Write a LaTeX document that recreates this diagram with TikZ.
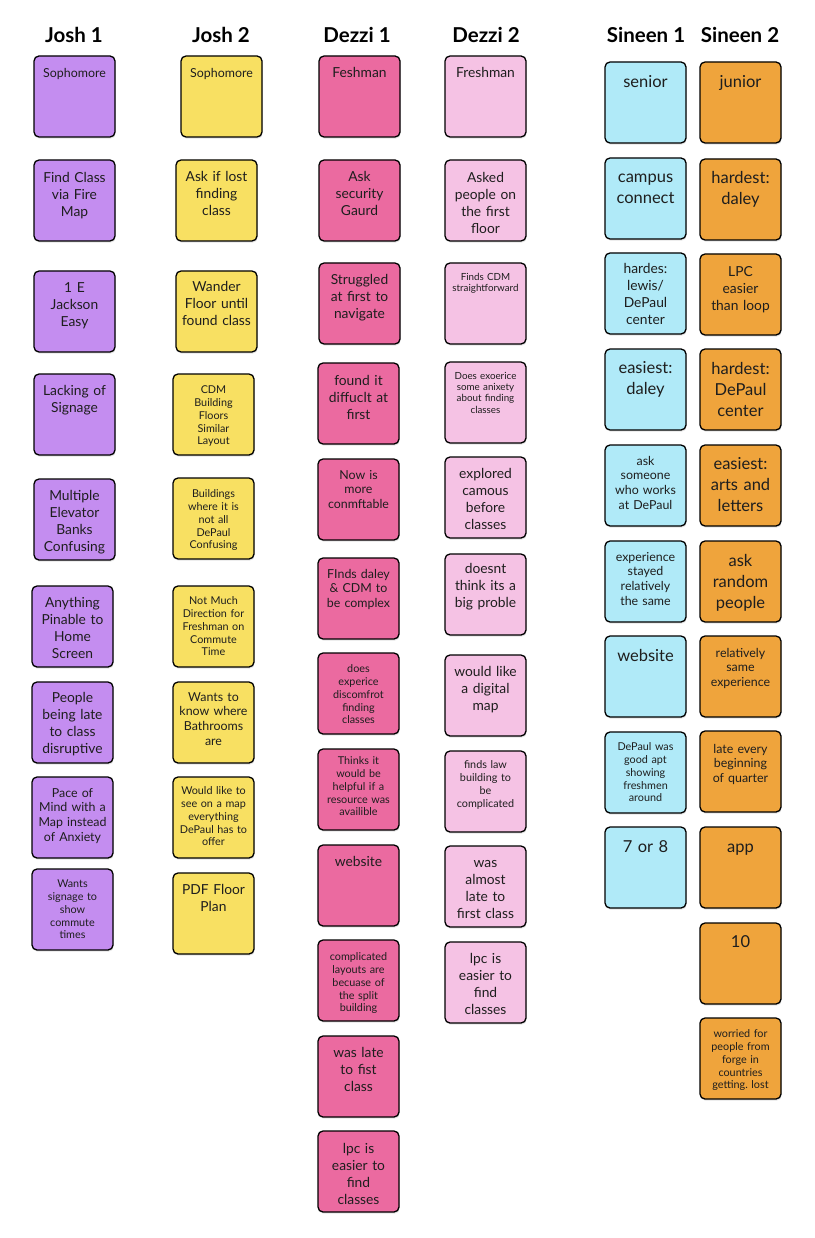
\documentclass[tikz,border=0pt]{standalone}
\usepackage{fontspec}
\setmainfont{Lato}
\frenchspacing
\usetikzlibrary{shadows}
\definecolor{purp}{HTML}{C48DF0}
\definecolor{yel}{HTML}{F8E062}
\definecolor{pinkd}{HTML}{EB6AA0}
\definecolor{pinkl}{HTML}{F5C2E4}
\definecolor{skyb}{HTML}{B0EAF8}
\definecolor{orng}{HTML}{EFA43C}
\definecolor{ink}{HTML}{1E1E1E}
\tikzset{
  notebox/.style={draw=black, line width=1.3pt, rounded corners=5pt, minimum width=81pt, minimum height=81pt, inner sep=0pt,
    drop shadow={shadow xshift=0.6pt, shadow yshift=-1.6pt, opacity=0.22}},
  txt/.style={anchor=base, text width=95pt, align=center, inner sep=0pt, text=ink},
  tt/.style={txt, font=\fontsize{9.8}{11.3}\selectfont, yshift=-4.8pt},
  ts/.style={txt, font=\fontsize{10.8}{12.8}\selectfont, yshift=-5.3pt},
  sm/.style={txt, font=\fontsize{12.4}{14.6}\selectfont, yshift=-5.9pt},
  md/.style={txt, font=\fontsize{13.8}{17}\selectfont, yshift=-6.2pt},
  lg/.style={txt, font=\fontsize{16.5}{21}\selectfont, yshift=-7pt},
  title/.style={font=\bfseries\fontsize{20.5}{24}\selectfont, text=black, inner sep=0pt}
}
% name, left x, top y, colour, text style, first-line centre offset, text
\newcommand{\sticky}[7]{%
  \node[notebox, fill=#4] (#1) at (#2+40.5,#3+40.5) {};
  \node[#5, yshift=-#6pt] (#1t) at (#1.north) {#7};
}
\begin{document}
\begin{tikzpicture}[x=1pt,y=-1pt]
\fill[white] (0,0) rectangle (814,1238);
\useasboundingbox (0,0) rectangle (814,1238);
% titles
\node[title] (h1) at (74,35) {Josh 1};
\node[title] (h2) at (221,35) {Josh 2};
\node[title] (h3) at (357,35) {Dezzi 1};
\node[title] (h4) at (486,35) {Dezzi 2};
\node[title] (h5) at (646,35) {Sineen 1};
\node[title] (h6) at (740,35) {Sineen 2};
% Josh 1
\sticky{ja1}{34}{56}{purp}{sm}{16}{Sophomore}
\sticky{ja2}{34}{160}{purp}{md}{17}{Find Class\\via Fire\\Map}
\sticky{ja3}{34}{271}{purp}{md}{16}{1 E\\Jackson\\Easy}
\sticky{ja4}{34}{374}{purp}{md}{16}{Lacking of\\Signage}
\sticky{ja5}{34}{479}{purp}{md}{16}{Multiple\\Elevator\\Banks\\Confusing}
\sticky{ja6}{32}{586}{purp}{md}{16}{Anything\\Pinable to\\Home\\Screen}
\sticky{ja7}{32}{682}{purp}{md}{15}{People\\being late\\to class\\disruptive}
\sticky{ja8}{32}{777}{purp}{sm}{15}{Pace of\\Mind with a\\Map instead\\of Anxiety}
\sticky{ja9}{32}{869}{purp}{ts}{14}{Wants\\signage to\\show\\commute\\times}
% Josh 2
\sticky{jb1}{181}{56}{yel}{sm}{16}{Sophomore}
\sticky{jb2}{176}{160}{yel}{md}{16}{Ask if lost\\finding\\class}
\sticky{jb3}{176}{271}{yel}{md}{15}{Wander\\Floor until\\found class}
\sticky{jb4}{173}{374}{yel}{ts}{15}{CDM\\Building\\Floors\\Similar\\Layout}
\sticky{jb5}{173}{478}{yel}{ts}{15}{Buildings\\where it is\\not all\\DePaul\\Confusing}
\sticky{jb6}{173}{586}{yel}{ts}{14}{Not Much\\Direction for\\Freshman on\\Commute\\Time}
\sticky{jb7}{173}{682}{yel}{sm}{14}{Wants to\\know where\\Bathrooms\\are}
\sticky{jb8}{173}{777}{yel}{ts}{13}{Would like to\\see on a map\\everything\\DePaul has to\\offer}
\sticky{jb9}{173}{873}{yel}{md}{16}{PDF Floor\\Plan}
% Dezzi 1
\sticky{da1}{319}{56}{pinkd}{md}{16}{Feshman}
\sticky{da2}{319}{160}{pinkd}{md}{16}{Ask\\security\\Gaurd}
\sticky{da3}{319}{263}{pinkd}{md}{16}{Struggled\\at first to\\navigate}
\sticky{da4}{318}{363}{pinkd}{md}{17}{found it\\diffuclt at\\first}
\sticky{da5}{318}{459}{pinkd}{sm}{15}{Now is\\more\\conmftable}
\sticky{da6}{318}{558}{pinkd}{sm}{15}{FInds daley\\\& CDM to\\be complex}
\sticky{da7}{318}{653}{pinkd}{ts}{15}{does\\experice\\discomfrot\\finding\\classes}
\sticky{da8}{318}{749}{pinkd}{ts}{11}{Thinks it\\would be\\helpful if a\\resource was\\availible}
\sticky{da9}{318}{845}{pinkd}{md}{16}{website}
\sticky{da10}{318}{940}{pinkd}{ts}{16}{complicated\\layouts are\\becuase of\\the split\\building}
\sticky{da11}{318}{1036}{pinkd}{md}{16}{was late\\to fist\\class}
\sticky{da12}{318}{1131}{pinkd}{md}{17}{lpc is\\easier to\\find\\classes}
% Dezzi 2
\sticky{db1}{445}{56}{pinkl}{md}{16}{Freshman}
\sticky{db2}{445}{160}{pinkl}{md}{17}{Asked\\people on\\the first\\floor}
\sticky{db3}{445}{263}{pinkl}{tt}{13}{Finds CDM\\straightforward}
\sticky{db4}{445}{362}{pinkl}{tt}{13}{Does exoerice\\some anixety\\about finding\\classes}
\sticky{db5}{445}{457}{pinkl}{md}{16}{explored\\camous\\before\\classes}
\sticky{db6}{445}{554}{pinkl}{md}{14}{doesnt\\think its a\\big proble}
\sticky{db7}{445}{655}{pinkl}{md}{16}{would like\\a digital\\map}
\sticky{db8}{445}{751}{pinkl}{ts}{13}{finds law\\building to\\be\\complicated}
\sticky{db9}{445}{846}{pinkl}{md}{16}{was\\almost\\late to\\first class}
\sticky{db10}{445}{942}{pinkl}{md}{16}{lpc is\\easier to\\find\\classes}
% Sineen 1
\sticky{sa1}{605}{62}{skyb}{lg}{19}{senior}
\sticky{sa2}{605}{158}{skyb}{lg}{18}{campus\\connect}
\sticky{sa3}{605}{253}{skyb}{md}{15}{hardes:\\lewis/\\DePaul\\center}
\sticky{sa4}{605}{349}{skyb}{lg}{18}{easiest:\\daley}
\sticky{sa5}{605}{445}{skyb}{sm}{15}{ask\\someone\\who works\\at DePaul}
\sticky{sa6}{605}{541}{skyb}{sm}{15}{experience\\stayed\\relatively\\the same}
\sticky{sa7}{605}{636}{skyb}{lg}{19}{website}
\sticky{sa8}{605}{732}{skyb}{ts}{14}{DePaul was\\good apt\\showing\\freshmen\\around}
\sticky{sa9}{605}{827}{skyb}{lg}{19}{7 or 8}
% Sineen 2
\sticky{sb1}{700}{62}{orng}{lg}{19}{junior}
\sticky{sb2}{700}{159}{orng}{lg}{18}{hardest:\\daley}
\sticky{sb3}{700}{254}{orng}{md}{17}{LPC\\easier\\than loop}
\sticky{sb4}{700}{349}{orng}{lg}{19}{hardest:\\DePaul\\center}
\sticky{sb5}{700}{445}{orng}{lg}{18}{easiest:\\arts and\\letters}
\sticky{sb6}{700}{541}{orng}{lg}{19}{ask\\random\\people}
\sticky{sb7}{700}{636}{orng}{sm}{16}{relatively\\same\\experience}
\sticky{sb8}{700}{731}{orng}{sm}{17}{late every\\beginning\\of quarter}
\sticky{sb9}{700}{827}{orng}{lg}{19}{app}
\sticky{sb10}{700}{923}{orng}{lg}{18}{10}
\sticky{sb11}{700}{1018}{orng}{ts}{15}{worried for\\people from\\forge in\\countries\\getting. lost}
\end{tikzpicture}
\end{document}
